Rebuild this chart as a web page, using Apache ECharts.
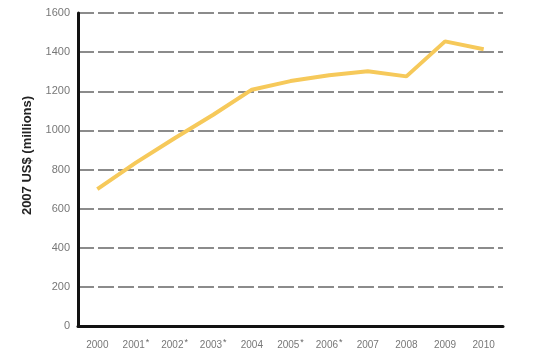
<!DOCTYPE html>
<html>
<head>
<meta charset="utf-8">
<script src="https://cdn.jsdelivr.net/npm/echarts@6/dist/echarts.min.js"></script>
<style>html,body{margin:0;padding:0;background:#fff}#c{width:536px;height:364px}</style>
</head>
<body>
<div id="c"></div>
<script>
var years = ['2000','2001','2002','2003','2004','2005','2006','2007','2008','2009','2010'];
var starred = ['2001','2002','2003','2005','2006'];
var values = [700, 835, 960, 1080, 1208, 1252, 1282, 1302, 1276, 1455, 1415];
var yTicks = [0, 200, 400, 600, 800, 1000, 1200, 1400, 1600];

var chart = echarts.init(document.getElementById('c'));
chart.setOption({
  animation: false,
  grid: {left: 78, right: 33, top: 13, bottom: 38},
  xAxis: {
    type: 'category',
    data: years,
    boundaryGap: true,
    axisLine: {lineStyle: {color: '#111', width: 3}},
    axisTick: {inside: true, length: 8, lineStyle: {color: '#222', width: 1.5}},
    axisLabel: {
      interval: 0, hideOverlap: false, margin: 12,
      formatter: function (v) { return starred.indexOf(v) >= 0 ? '{n|' + v + '}{s|*}' : '{n|' + v + '}'; },
      rich: {
        n: {fontSize: 10, color: '#777', fontFamily: 'Liberation Sans', lineHeight: 12, verticalAlign: 'bottom'},
        s: {fontSize: 9, color: '#666', fontFamily: 'Liberation Sans', lineHeight: 12, verticalAlign: 'top', padding: [0, 0, 0, 1]}
      }
    },
    splitLine: {show: false}
  },
  yAxis: {
    type: 'value',
    min: yTicks[0], max: yTicks[yTicks.length - 1], interval: 200,
    name: '2007 US$ (millions)',
    nameLocation: 'middle',
    nameGap: 44,
    nameTextStyle: {color: '#222', fontSize: 13, fontWeight: 'bold', fontFamily: 'Liberation Sans', padding: [0, 0, 0, 28]},
    axisLine: {show: true, lineStyle: {color: '#111', width: 3}},
    axisTick: {show: false},
    axisLabel: {color: '#777', fontSize: 11, fontFamily: 'Liberation Sans', margin: 8, formatter: function (v) { return String(v); }},
    splitLine: {lineStyle: {color: '#666', width: 1.6, type: [16, 4]}}
  },
  series: [{
    type: 'line',
    data: values,
    symbol: 'none',
    lineStyle: {color: '#f6c95a', width: 4},
    z: 3
  }]
});
</script>
</body>
</html>
